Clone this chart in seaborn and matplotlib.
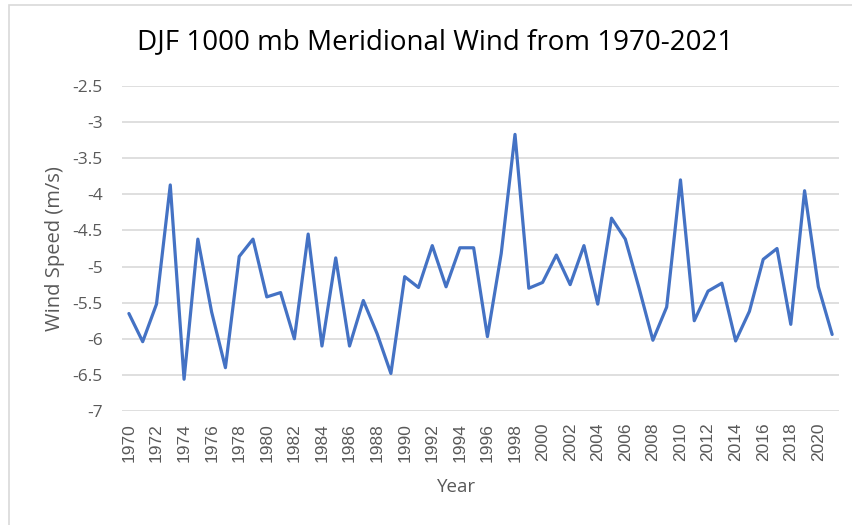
import matplotlib
matplotlib.use("Agg")
import matplotlib.pyplot as plt
import seaborn as sns
import pandas as pd
from matplotlib.patches import Rectangle

years = list(range(1970, 2022))
wind_speed = [
    -5.65, -6.04, -5.52, -3.87, -6.56, -4.62, -5.63, -6.40, -4.86, -4.62,
    -5.42, -5.36, -6.00, -4.55, -6.10, -4.88, -6.10, -5.47, -5.93, -6.48,
    -5.14, -5.29, -4.71, -5.28, -4.74, -4.74, -5.97, -4.82, -3.17, -5.30,
    -5.22, -4.84, -5.25, -4.71, -5.52, -4.33, -4.62, -5.30, -6.02, -5.56,
    -3.80, -5.75, -5.34, -5.23, -6.03, -5.62, -4.90, -4.75, -5.80, -3.95,
    -5.28, -5.94,
]
y_ticks = [-7, -6.5, -6, -5.5, -5, -4.5, -4, -3.5, -3, -2.5]

df = pd.DataFrame({"Year": years, "Wind": wind_speed})

sns.set_style("white")
plt.rcParams["font.family"] = ["Open Sans", "DejaVu Sans"]

fig = plt.figure(figsize=(8.52, 5.25), dpi=100)
ax = fig.add_axes([0.1432, 0.2171, 0.8416, 0.6191])

sns.lineplot(data=df, x="Year", y="Wind", ax=ax, color="#4472C4", linewidth=2.3)

ax.set_xlim(1969.5, 2021.5)
ax.set_ylim(-7, -2.5)
ax.set_yticks(y_ticks)
ax.set_yticklabels([f"{v:g}" for v in y_ticks], fontsize=12.5, color="#595959")
ax.set_xticks(years[::2])
ax.set_xticklabels([str(y) for y in years[::2]], rotation=90, fontsize=12.5,
                   color="#595959", family="Liberation Sans")
ax.tick_params(axis="x", length=0, pad=8.5)
ax.tick_params(axis="y", length=0, pad=14)
ax.grid(axis="y", color="#D9D9D9", linewidth=1.2)
ax.set_axisbelow(True)
for s in ax.spines.values():
    s.set_visible(False)

ax.set_xlabel("Year", fontsize=13.5, color="#595959")
ax.xaxis.set_label_coords(0.467, -0.206)
ax.set_ylabel("Wind Speed (m/s)", fontsize=14.5, color="#595959")
ax.yaxis.set_label_coords(-0.08, 0.5)
fig.text(0.5106, 0.92, "DJF 1000 mb Meridional Wind from 1970-2021",
         ha="center", va="center", fontsize=20, color="#000000")

fig.add_artist(Rectangle((0.011, -0.01), 0.995, 1.0, transform=fig.transFigure,
                         fill=False, edgecolor="#D9D9D9", linewidth=1.2))

fig.savefig("out.png", dpi=100)
